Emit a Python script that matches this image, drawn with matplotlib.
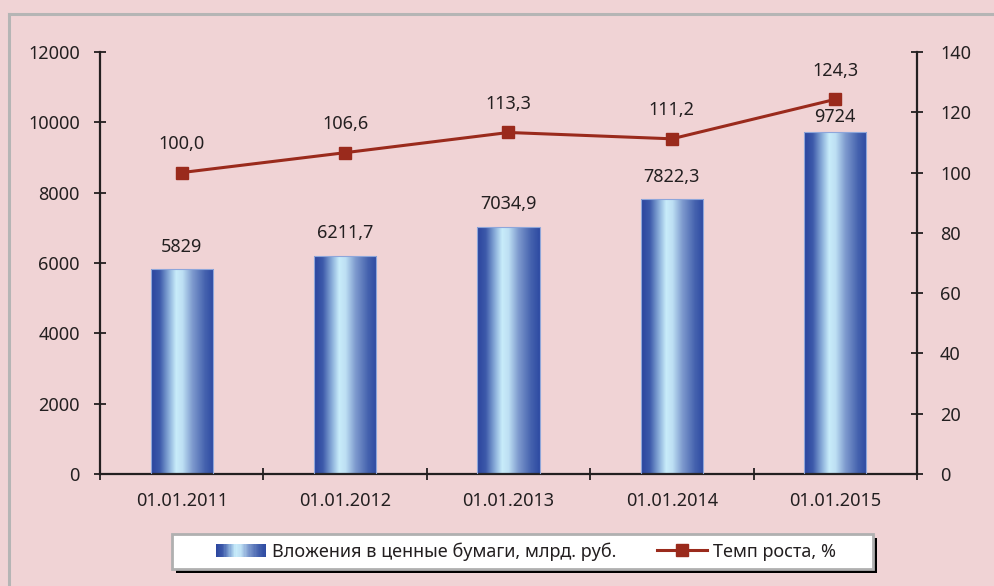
import numpy as np
import matplotlib
matplotlib.use("Agg")
import matplotlib.pyplot as plt
from matplotlib.colors import LinearSegmentedColormap
from matplotlib.patches import Rectangle
from matplotlib.lines import Line2D
from matplotlib.legend_handler import HandlerBase

# ---- data ----
categories = ["01.01.2011", "01.01.2012", "01.01.2013", "01.01.2014", "01.01.2015"]
investments = [5829, 6211.7, 7034.9, 7822.3, 9724]
growth = [100.0, 106.6, 113.3, 111.2, 124.3]
left_ticks = [0, 2000, 4000, 6000, 8000, 10000, 12000]
right_ticks = [0, 20, 40, 60, 80, 100, 120, 140]
bar_name = "Вложения в ценные бумаги, млрд. руб."
line_name = "Темп роста, %"

# styling (label offsets in points)
bar_label_offsets = [16, 16, 16, 16, 10.8]
BG = "#F0D3D5"
AX = "#231F20"
LINE_C = "#9A2A1C"
FS = 13

plt.rcParams["font.family"] = ["Noto Sans", "DejaVu Sans"]

grad_cmap = LinearSegmentedColormap.from_list("bar", [
    (0.0, "#2A449E"), (0.14, "#3D5AAA"), (0.30, "#92B6DE"), (0.40, "#C8ECFA"),
    (0.50, "#BEE0F4"), (0.66, "#7E9ACE"), (0.86, "#4562AE"), (1.0, "#2D4AA2")])

W, H = 995, 586
fig = plt.figure(figsize=(W / 100, H / 100), dpi=100)
fig.patch.set_facecolor(BG)

def fx(px):
    return px / W

def fy(py):
    return 1 - py / H

# outer border (top and left)
fig.add_artist(Line2D([fx(9), fx(9)], [0, fy(14)], transform=fig.transFigure, color="#B5B5B5", lw=2.2))
fig.add_artist(Line2D([fx(9), 1], [fy(14), fy(14)], transform=fig.transFigure, color="#B5B5B5", lw=2.2))

ax = fig.add_axes([fx(100), fy(474), fx(817), 422 / H])
ax.set_facecolor("none")
ax2 = ax.twinx()

x = np.arange(len(categories))
w = 0.38
bars = ax.bar(x, investments, width=w, color="none", edgecolor="#8EA6DA", linewidth=0.8, zorder=3)
grad = np.linspace(0, 1, 256).reshape(1, -1)
for b in bars:
    im = ax.imshow(grad, cmap=grad_cmap, aspect="auto", zorder=2,
                   extent=(b.get_x(), b.get_x() + b.get_width(), 0, b.get_height()))
    im.set_clip_path(b)

def fmt_bar(v):
    if float(v).is_integer():
        return f"{int(v)}"
    return f"{v:.1f}".replace(".", ",")

def fmt_pct(v):
    return f"{v:.1f}".replace(".", ",")

for xi, v, off in zip(x, investments, bar_label_offsets):
    ax.annotate(fmt_bar(v), (xi, v), xytext=(0, off), textcoords="offset points",
                ha="center", va="center", fontsize=FS, color=AX)

ax.set_xlim(-0.5, len(categories) - 0.5)
ax.set_ylim(0, 12000)
ax.set_yticks(left_ticks)
ax.set_xticks(x)
ax.set_xticklabels(categories)
ax.set_xticks(np.arange(-0.5, len(categories), 1.0), minor=True)
ax.tick_params(axis="x", which="major", length=0, pad=13, labelsize=FS, labelcolor=AX)
ax.tick_params(axis="x", which="minor", direction="inout", length=9, width=1.3, color=AX)
ax.tick_params(axis="y", direction="inout", length=9, width=1.3, color=AX, pad=10,
               labelsize=FS, labelcolor=AX)

ax2.plot(x, growth, color=LINE_C, lw=2.2, marker="s", markersize=9, zorder=4)
for xi, v in zip(x, growth):
    ax2.annotate(fmt_pct(v), (xi, v), xytext=(0, 20.4), textcoords="offset points",
                 ha="center", va="center", fontsize=FS, color=AX)
ax2.set_ylim(0, 140)
ax2.set_yticks(right_ticks)
ax2.tick_params(axis="y", direction="inout", length=9, width=1.3, color=AX, pad=12,
                labelsize=FS, labelcolor=AX)

for a in (ax, ax2):
    a.spines["top"].set_visible(False)
    for s in ("left", "right", "bottom"):
        a.spines[s].set_color(AX)
        a.spines[s].set_linewidth(1.6)
ax.spines["right"].set_visible(False)
ax2.spines["left"].set_visible(False)
ax2.spines["bottom"].set_visible(False)

# legend box with shadow
lx0, ly0, lx1, ly1 = 172, 534, 873, 569
fig.add_artist(Rectangle((fx(lx0 + 4), fy(ly1 + 4)), fx(lx1 - lx0), (ly1 - ly0) / H,
                         transform=fig.transFigure, facecolor="black", edgecolor="none", zorder=5))
fig.add_artist(Rectangle((fx(lx0), fy(ly1)), fx(lx1 - lx0), (ly1 - ly0) / H,
                         transform=fig.transFigure, facecolor="white", edgecolor="#B0B0B0",
                         linewidth=2, zorder=6))

class GradHandler(HandlerBase):
    def create_artists(self, legend, orig, xd, yd, width, height, fontsize, trans):
        n = 40
        arts = []
        for i in range(n):
            r = Rectangle((width * i / n - xd, -yd), width / n + 0.3, height,
                          facecolor=grad_cmap((i + 0.5) / n), edgecolor="none", transform=trans)
            arts.append(r)
        return arts

bar_handle = Rectangle((0, 0), 1, 1)
line_handle = Line2D([], [], color=LINE_C, lw=2.2, marker="s", markersize=9)
leg = fig.legend([bar_handle, line_handle], [bar_name, line_name], ncol=2,
                 loc="center", bbox_to_anchor=(fx((213 + 839) / 2), fy((ly0 + ly1) / 2)),
                 handler_map={Rectangle: GradHandler()},
                 fontsize=FS, frameon=False, handlelength=2.78, handletextpad=0.33,
                 columnspacing=2.28, borderpad=0.2)
leg.set_zorder(7)
for t in leg.get_texts():
    t.set_color(AX)

fig.savefig("out.png", dpi=100, facecolor=BG)
